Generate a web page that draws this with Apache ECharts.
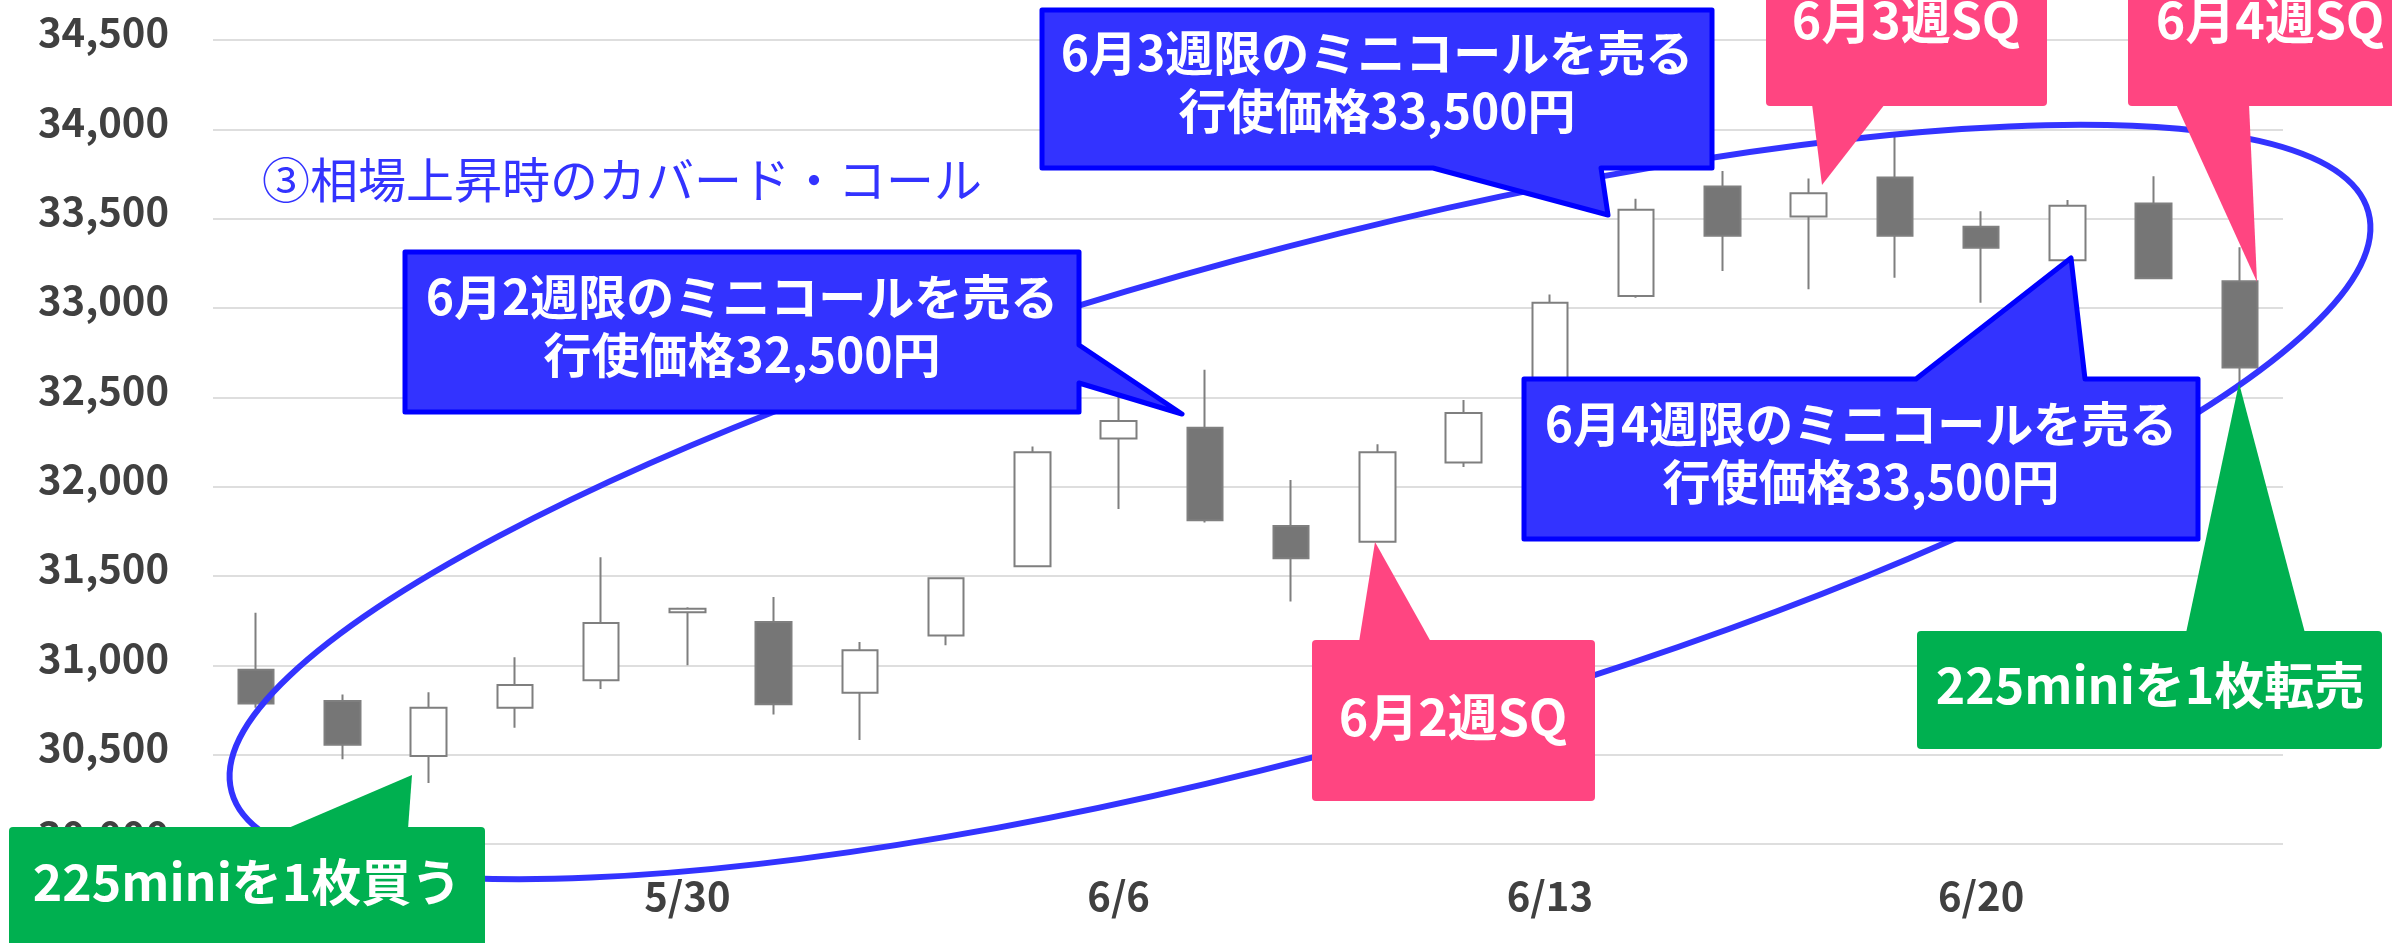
<!DOCTYPE html>
<html>
<head>
<meta charset="utf-8">
<script src="https://cdn.jsdelivr.net/npm/echarts@6/dist/echarts.min.js"></script>
<style>
  html, body { margin: 0; padding: 0; background: #fff; }
  #chart { width: 2392px; height: 943px; }
</style>
</head>
<body>
<div id="chart"></div>
<script>
// 日足 (5/23 - 6/23)
const dates = ['5/23', '5/24', '5/25', '5/26', '5/29', '5/30', '5/31', '6/1', '6/2', '6/5',
  '6/6', '6/7', '6/8', '6/9', '6/12', '6/13', '6/14', '6/15', '6/16', '6/19',
  '6/20', '6/21', '6/22', '6/23']
const openVals = [30975, 30800, 30492, 30762, 30917, 31297, 31242, 30847, 31167, 31555,
  32270, 32330, 31780, 31692, 32135, 32420, 33067, 33680, 33512, 33730,
  33455, 33267, 33585, 33150]
const closeVals = [30787, 30555, 30762, 30890, 31237, 31317, 30782, 31085, 31487, 32192,
  32367, 31812, 31600, 32192, 32412, 33030, 33550, 33405, 33642, 33405,
  33337, 33572, 33167, 32667]
const lowVals = [30762, 30475, 30342, 30650, 30867, 31000, 30725, 30582, 31112, 31550,
  31875, 31800, 31357, 31690, 32110, 32400, 33057, 33207, 33105, 33170,
  33030, 33265, 33165, 32575]
const highVals = [31295, 30837, 30850, 31045, 31605, 31325, 31382, 31130, 31490, 32225,
  32560, 32655, 32037, 32237, 32485, 33075, 33612, 33767, 33725, 33957,
  33542, 33605, 33737, 33340]

const FONT = '"Noto Sans CJK JP", "Noto Sans", sans-serif'
const BLUE = '#3333ff'
const BLUE_EDGE = '#0000ff'
const PINK = '#ff4581'
const GREEN = '#00b050'

const candles = dates.map((d, i) => [openVals[i], closeVals[i], lowVals[i], highVals[i]])

// 吹き出し
function blueCallout(points, text, cx, cy) {
  return [
    { type: 'polygon', z: 30, shape: { points }, style: { fill: BLUE, stroke: BLUE_EDGE, lineWidth: 5, lineJoin: 'round' } },
    { type: 'text', z: 31, style: { text, x: cx, y: cy, fill: '#fff', font: 'bold 48px ' + FONT, align: 'center', verticalAlign: 'middle', lineHeight: 58 } }
  ]
}
function flatCallout(rect, tail, color, text, cx, cy) {
  return [
    { type: 'rect', z: 30, shape: { x: rect[0], y: rect[1], width: rect[2] - rect[0], height: rect[3] - rect[1], r: 4 }, style: { fill: color } },
    { type: 'polygon', z: 30, shape: { points: tail }, style: { fill: color } },
    { type: 'text', z: 31, style: { text, x: cx, y: cy, fill: '#fff', font: 'bold 50px ' + FONT, align: 'center', verticalAlign: 'middle' } }
  ]
}

const graphics = [
  { type: 'ellipse', z: 20, x: 1300, y: 502, rotation: 0.265, shape: { cx: 0, cy: 0, rx: 1107, ry: 250 }, style: { fill: 'none', stroke: BLUE, lineWidth: 6 } },
  { type: 'text', z: 21, style: { text: '③相場上昇時のカバード・コール', x: 262, y: 180, fill: BLUE, font: '48px ' + FONT, align: 'left', verticalAlign: 'middle' } },
  ...blueCallout([[405, 252], [1079, 252], [1079, 345], [1182, 414], [1079, 383], [1079, 412], [405, 412]],
    '6月2週限のミニコールを売る\n行使価格32,500円', 742, 326),
  ...blueCallout([[1042, 10], [1712, 10], [1712, 168], [1601, 168], [1608, 215], [1433, 168], [1042, 168]],
    '6月3週限のミニコールを売る\n行使価格33,500円', 1377, 82),
  ...blueCallout([[1524, 379], [1916, 379], [2071, 258], [2085, 379], [2198, 379], [2198, 539], [1524, 539]],
    '6月4週限のミニコールを売る\n行使価格33,500円', 1861, 453),
  ...flatCallout([1312, 640, 1595, 801], [[1359, 642], [1375, 542], [1431, 642]], PINK, '6月2週SQ', 1453, 717),
  ...flatCallout([1766, -60, 2047, 106], [[1812, 104], [1822, 185], [1885, 104]], PINK, '6月3週SQ', 1906, 20),
  ...flatCallout([2128, -60, 2420, 106], [[2176, 104], [2257, 282], [2249, 104]], PINK, '6月4週SQ', 2270, 20),
  ...flatCallout([9, 827, 485, 980], [[286, 829], [412, 775], [408, 829]], GREEN, '225miniを1枚買う', 247, 882),
  ...flatCallout([1917, 631, 2382, 749], [[2186, 633], [2239, 383], [2305, 633]], GREEN, '225miniを1枚転売', 2150, 685)
]

const option = {
  backgroundColor: '#fff',
  animation: false,
  grid: { left: 213, right: 109, top: 40, bottom: 99, containLabel: false, outerBoundsMode: 'none' },
  xAxis: {
    type: 'category',
    data: dates,
    axisLine: { show: false },
    axisTick: { show: false },
    axisLabel: { interval: 4, margin: 32, color: '#404040', fontSize: 40, fontWeight: 'bold', fontFamily: FONT }
  },
  yAxis: {
    type: 'value',
    min: 30000,
    max: 34500,
    interval: 500,
    axisLine: { show: false },
    axisTick: { show: false },
    splitLine: { lineStyle: { color: '#dedede', width: 2 } },
    axisLabel: {
      margin: 44,
      color: '#404040',
      fontSize: 40,
      fontWeight: 'bold',
      fontFamily: FONT,
      showMinLabel: true,
      verticalAlign: 'bottom',
      lineHeight: 16,
      formatter: v => v.toLocaleString('en-US')
    }
  },
  series: [
    {
      type: 'candlestick',
      data: candles,
      barWidth: 36,
      itemStyle: {
        color: '#ffffff',
        color0: '#767676',
        borderColor: '#7f7f7f',
        borderColor0: '#7f7f7f',
        borderWidth: 2
      }
    }
  ],
  graphic: graphics
}

const chart = echarts.init(document.getElementById('chart'))
chart.setOption(option)
</script>
</body>
</html>
